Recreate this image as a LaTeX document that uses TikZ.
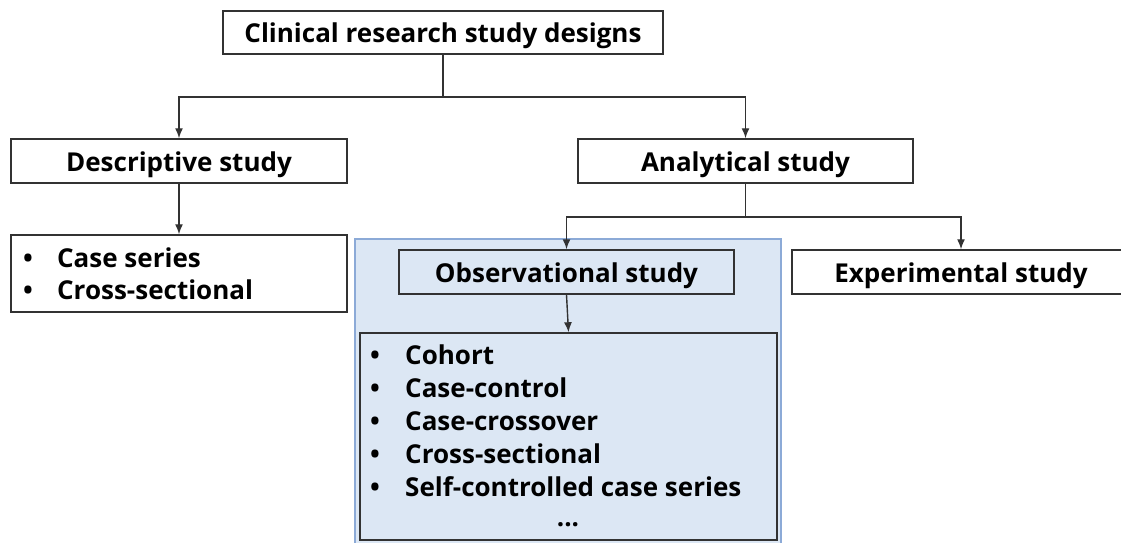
\documentclass[tikz,border=0pt]{standalone}
\usepackage{fontspec}
\setmainfont{Open Sans}
\usetikzlibrary{arrows.meta}

\definecolor{panelfill}{RGB}{220,231,244}
\definecolor{panelline}{RGB}{140,170,215}
\definecolor{boxline}{RGB}{50,50,50}

\tikzset{
  box/.style={draw=boxline, line width=1.5pt, fill=white, inner sep=0pt,
    minimum height=44pt, text height=21pt, text depth=0pt,
    font=\fontsize{26}{30}\selectfont\bfseries},
  item/.style={anchor=base west, inner sep=0pt, font=\fontsize{26}{30}\selectfont\bfseries},
  link/.style={draw=boxline, line width=1.4pt}
}

\begin{document}
\begin{tikzpicture}[x=1pt,y=-1pt, >={Latex[length=10pt,width=8pt]}]
\useasboundingbox (0,0) rectangle (1121,543);
% shaded panel round the observational branch
\filldraw[fill=panelfill, draw=panelline, line width=1.2pt] (355,239) rectangle (781,570);

\node[box, minimum width=440pt, minimum height=43pt] (designs) at (443,32.5) {Clinical research study designs};
\node[box, minimum width=336pt] (desc) at (179,161) {Descriptive study};
\node[box, minimum width=335pt] (anal) at (745.5,161) {Analytical study};
\node[box, minimum width=336pt, minimum height=77pt] (desclist) at (179,273.5) {};
\node[box, fill=panelfill, minimum width=335pt] (obs) at (566.5,272) {Observational study};
\node[box, minimum width=338pt] (exp) at (961,272) {Experimental study};
\node[box, fill=panelfill, minimum width=417pt, minimum height=207pt] (obslist) at (568.5,436.5) {};

% list entries
\foreach \txt [count=\i] in {Case series, Cross-sectional}
  \node[item] (descitem\i) at (23,235+32*\i) {\makebox[34pt][l]{\textbullet}\txt};
\foreach \txt [count=\i] in {Cohort, Case-control, Case-crossover, Cross-sectional, Self-controlled case series}
  \node[item] (obsitem\i) at (370,331+33*\i) {\makebox[35pt][l]{\textbullet}\txt};
\node[item, anchor=base] (obsmore) at (568,526) {...};

% connectors
\coordinate (split1) at (443,97);
\coordinate (split2) at (745.5,217);
\draw[link] (designs.south) -- (split1);
\draw[link,->] (split1) -| (desc.north);
\draw[link,->] (split1) -| (anal.north);
\draw[link,->] (desc.south) -- (desclist.north);
\draw[link] (anal.south) -- (split2);
\draw[link,->] (split2) -| (obs.north);
\draw[link,->] (split2) -| (exp.north);
\draw[link,->] (obs.south) -- (obslist.north);
\end{tikzpicture}
\end{document}
